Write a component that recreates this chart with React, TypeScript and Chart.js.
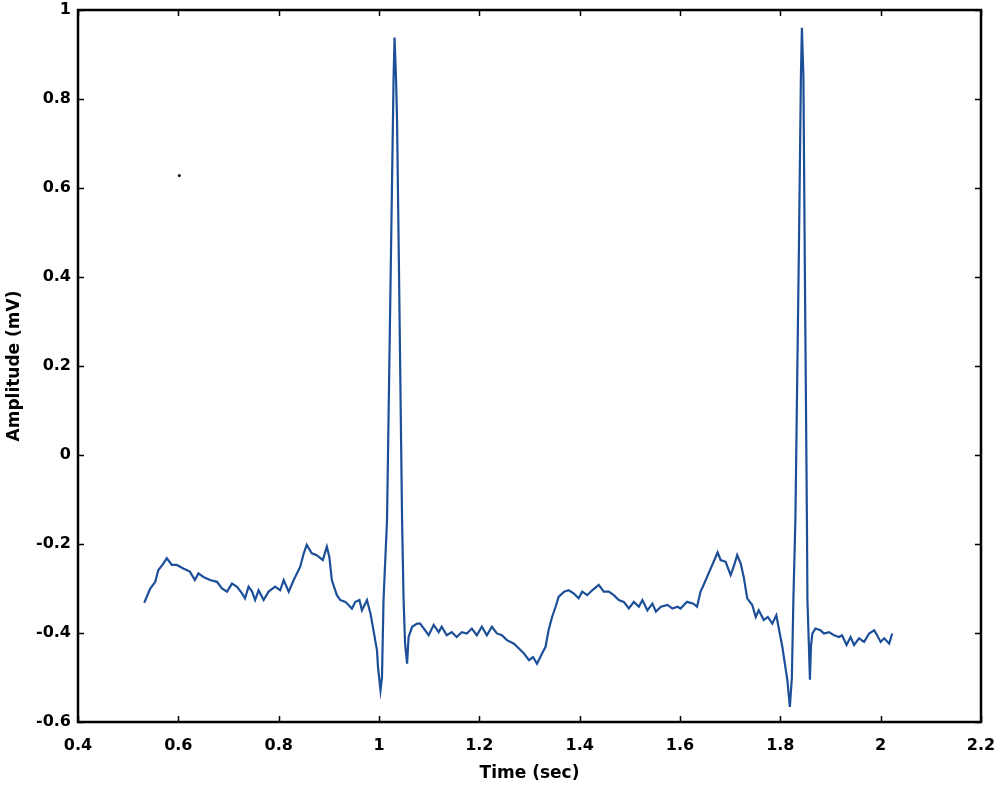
import React, { useEffect, useRef } from "react";
import { Chart, registerables } from "chart.js";

Chart.register(...registerables);

const timeSec: number[] = [
  0.532, 0.544, 0.554, 0.560, 0.570, 0.577, 0.587, 0.597, 0.610, 0.623,
  0.633, 0.640, 0.650, 0.663, 0.677, 0.687, 0.697, 0.707, 0.717, 0.727,
  0.733, 0.740, 0.747, 0.753, 0.760, 0.770, 0.780, 0.793, 0.803, 0.810,
  0.820, 0.830, 0.843, 0.850, 0.856, 0.866, 0.876, 0.888, 0.896, 0.901,
  0.906, 0.916, 0.923, 0.933, 0.946, 0.953, 0.961, 0.966, 0.976, 0.983,
  0.989, 0.996, 0.998, 1.003, 1.006, 1.009, 1.016, 1.024, 1.029, 1.031,
  1.034, 1.036, 1.040, 1.046, 1.049, 1.052, 1.056, 1.059, 1.066, 1.076,
  1.082, 1.092, 1.099, 1.109, 1.119, 1.125, 1.135, 1.145, 1.155, 1.165,
  1.175, 1.185, 1.195, 1.205, 1.215, 1.225, 1.235, 1.245, 1.255, 1.269,
  1.279, 1.289, 1.299, 1.307, 1.315, 1.325, 1.332, 1.338, 1.345, 1.352,
  1.358, 1.369, 1.378, 1.388, 1.398, 1.405, 1.415, 1.425, 1.438, 1.448,
  1.458, 1.468, 1.478, 1.488, 1.498, 1.508, 1.518, 1.525, 1.535, 1.545,
  1.552, 1.562, 1.575, 1.585, 1.595, 1.601, 1.614, 1.627, 1.634, 1.641,
  1.647, 1.657, 1.667, 1.675, 1.681, 1.691, 1.701, 1.707, 1.714, 1.721,
  1.727, 1.734, 1.744, 1.751, 1.757, 1.767, 1.775, 1.784, 1.792, 1.797,
  1.804, 1.810, 1.814, 1.819, 1.823, 1.826, 1.830, 1.837, 1.841, 1.843,
  1.846, 1.849, 1.853, 1.854, 1.857, 1.859, 1.861, 1.864, 1.870, 1.880,
  1.887, 1.897, 1.907, 1.917, 1.923, 1.932, 1.940, 1.947, 1.957, 1.967,
  1.977, 1.987, 1.993, 2.000, 2.007, 2.017, 2.023,
];

const amplitudeMv: number[] = [
  -0.332, -0.300, -0.285, -0.259, -0.244, -0.232, -0.247, -0.247, -0.255, -0.262,
  -0.281, -0.266, -0.274, -0.281, -0.285, -0.300, -0.307, -0.289, -0.296, -0.311,
  -0.322, -0.296, -0.307, -0.326, -0.304, -0.326, -0.307, -0.296, -0.304, -0.281,
  -0.307, -0.281, -0.251, -0.221, -0.202, -0.221, -0.225, -0.236, -0.206, -0.229,
  -0.281, -0.315, -0.326, -0.330, -0.345, -0.330, -0.326, -0.349, -0.326, -0.356,
  -0.394, -0.439, -0.476, -0.529, -0.499, -0.326, -0.146, 0.461, 0.844, 0.938,
  0.844, 0.750, 0.400, -0.146, -0.326, -0.424, -0.469, -0.409, -0.386, -0.379,
  -0.379, -0.394, -0.405, -0.382, -0.398, -0.386, -0.405, -0.398, -0.409, -0.398,
  -0.401, -0.390, -0.405, -0.386, -0.405, -0.386, -0.401, -0.405, -0.416, -0.424,
  -0.435, -0.446, -0.461, -0.454, -0.469, -0.446, -0.431, -0.394, -0.364, -0.341,
  -0.319, -0.307, -0.304, -0.311, -0.322, -0.307, -0.315, -0.304, -0.292, -0.307,
  -0.307, -0.315, -0.326, -0.330, -0.345, -0.330, -0.341, -0.326, -0.349, -0.334,
  -0.352, -0.341, -0.337, -0.345, -0.341, -0.345, -0.330, -0.334, -0.341, -0.307,
  -0.292, -0.266, -0.240, -0.219, -0.236, -0.240, -0.270, -0.251, -0.225, -0.244,
  -0.274, -0.322, -0.337, -0.364, -0.349, -0.371, -0.364, -0.379, -0.360, -0.390,
  -0.431, -0.476, -0.506, -0.566, -0.500, -0.326, -0.146, 0.461, 0.850, 0.960,
  0.850, 0.400, -0.146, -0.326, -0.430, -0.505, -0.430, -0.401, -0.390, -0.394,
  -0.401, -0.398, -0.405, -0.409, -0.405, -0.427, -0.409, -0.427, -0.412, -0.420,
  -0.401, -0.394, -0.405, -0.420, -0.412, -0.424, -0.401,
];

const strayTime: number[] = [0.602];
const strayAmplitude: number[] = [0.628];

const xTicks: number[] = [0.4, 0.6, 0.8, 1, 1.2, 1.4, 1.6, 1.8, 2, 2.2];
const yTicks: number[] = [-0.6, -0.4, -0.2, 0, 0.2, 0.4, 0.6, 0.8, 1];

const xTitle = "Time (sec)";
const yTitle = "Amplitude (mV)";

const FONT = "'DejaVu Sans', sans-serif";

const boxPlugin = {
  id: "matlabBox",
  afterDatasetsDraw(chart: any) {
    const { ctx, chartArea } = chart;
    const { left, right, top, bottom } = chartArea;
    const xs = chart.scales.x;
    const ys = chart.scales.y;
    const len = 6;
    ctx.save();
    ctx.strokeStyle = "#000";
    ctx.lineWidth = 1.5;
    ctx.beginPath();
    xTicks.forEach((v) => {
      const px = Math.round(xs.getPixelForValue(v)) + 0.5;
      ctx.moveTo(px, bottom);
      ctx.lineTo(px, bottom - len);
      ctx.moveTo(px, top);
      ctx.lineTo(px, top + len);
    });
    yTicks.forEach((v) => {
      const py = Math.round(ys.getPixelForValue(v)) + 0.5;
      ctx.moveTo(left, py);
      ctx.lineTo(left + len, py);
      ctx.moveTo(right, py);
      ctx.lineTo(right - len, py);
    });
    ctx.stroke();
    ctx.lineWidth = 2.5;
    ctx.strokeRect(left, top, right - left, bottom - top);
    ctx.restore();
  },
};

export default function App() {
  const ref = useRef<HTMLCanvasElement | null>(null);

  useEffect(() => {
    document.body.style.margin = "0";
    const canvas = ref.current;
    if (!canvas) return;
    const lineData = timeSec.map((t, i) => ({ x: t, y: amplitudeMv[i] }));
    const strayData = strayTime.map((t, i) => ({ x: t, y: strayAmplitude[i] }));

    const chart = new Chart(canvas, {
      type: "line",
      data: {
        datasets: [
          {
            data: lineData,
            borderColor: "#1d4f98",
            borderWidth: 2.2,
            pointRadius: 0,
            tension: 0,
            fill: false,
          },
          {
            data: strayData,
            showLine: false,
            pointRadius: 1.6,
            pointBackgroundColor: "#222",
            pointBorderWidth: 0,
          },
        ],
      },
      options: {
        responsive: false,
        animation: false,
        layout: { padding: { top: 10, right: 19, left: 0, bottom: 0 } },
        plugins: {
          legend: { display: false },
          tooltip: { enabled: false },
        },
        scales: {
          x: {
            type: "linear",
            min: 0.4,
            max: 2.2,
            afterBuildTicks: (scale: any) => {
              scale.ticks = xTicks.map((v) => ({ value: v }));
            },
            afterFit: (scale: any) => {
              scale.height = 70;
              scale.paddingLeft = 0;
              scale.paddingRight = 0;
            },
            grid: { display: false, drawTicks: false },
            border: { display: false },
            ticks: {
              color: "#000",
              padding: 14,
              maxRotation: 0,
              autoSkip: false,
              font: { family: FONT, size: 16, weight: "bold" },
              callback: (v: any) => String(Math.round(Number(v) * 10) / 10),
            },
            title: {
              display: true,
              text: xTitle,
              color: "#000",
              font: { family: FONT, size: 17, weight: "bold" },
              padding: { top: 0, bottom: 8 },
            },
          },
          y: {
            type: "linear",
            min: -0.6,
            max: 1,
            afterBuildTicks: (scale: any) => {
              scale.ticks = yTicks.map((v) => ({ value: v }));
            },
            afterFit: (scale: any) => {
              scale.width = 78;
              scale.paddingTop = 0;
              scale.paddingBottom = 0;
            },
            grid: { display: false, drawTicks: false },
            border: { display: false },
            ticks: {
              color: "#000",
              padding: 7,
              autoSkip: false,
              font: { family: FONT, size: 16, weight: "bold" },
              callback: (v: any) => String(Math.round(Number(v) * 10) / 10),
            },
            title: {
              display: true,
              text: yTitle,
              color: "#000",
              font: { family: FONT, size: 17, weight: "bold" },
              padding: { top: 4, bottom: 0 },
            },
          },
        },
      },
      plugins: [boxPlugin],
    });
    return () => chart.destroy();
  }, []);

  return (
    <div style={{ position: "absolute", left: 0, top: 0, width: 1000, height: 792, background: "#fff" }}>
      <canvas ref={ref} width={1000} height={792} style={{ display: "block" }} />
    </div>
  );
}
